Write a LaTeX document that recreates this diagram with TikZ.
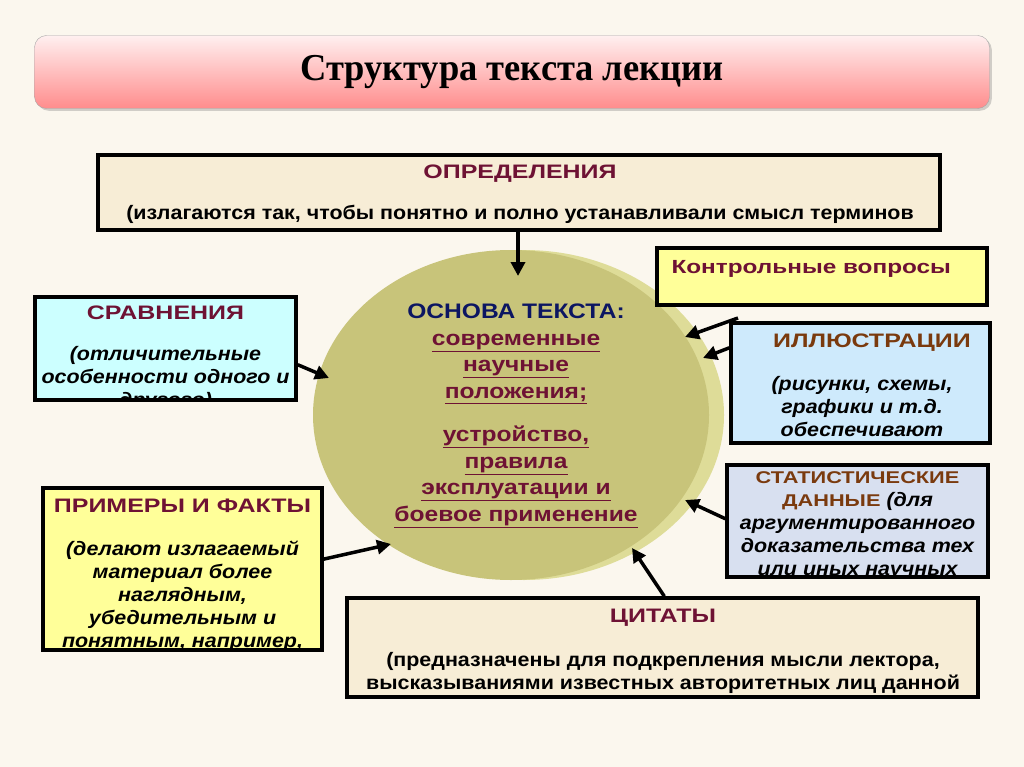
\documentclass[tikz,border=0pt]{standalone}
\usepackage{fontspec}
\setmainfont{Liberation Serif}
\setsansfont{Liberation Sans}
\newfontfamily\titlefont[FakeStretch=0.96]{Liberation Serif}
\newfontfamily\hdrfont[FakeStretch=1.28]{Liberation Sans}
\newfontfamily\txtfont[FakeStretch=1.1]{Liberation Sans}
\newfontfamily\midfont[FakeStretch=1.17]{Liberation Sans}
\usetikzlibrary{shapes.geometric,arrows.meta,shadows}

\newcommand\uln[1]{\underline{#1}}

\definecolor{bgbeige}{RGB}{251,247,238}
\definecolor{hdrred}{RGB}{110,18,52}
\definecolor{hdrbrown}{RGB}{122,58,14}
\definecolor{navy}{RGB}{12,22,98}
\definecolor{paper}{RGB}{247,237,214}
\definecolor{lemon}{RGB}{255,255,153}
\definecolor{aqua}{RGB}{204,255,255}
\definecolor{sky}{RGB}{206,234,252}
\definecolor{lilac}{RGB}{216,224,240}
\definecolor{olive}{RGB}{200,196,122}
\definecolor{oliveside}{RGB}{222,220,152}

\tikzset{
  frame/.style={draw=black, line width=3.5pt, inner sep=0pt},
  hdr/.style={font=\hdrfont\bfseries\fontsize{19.5}{23}\selectfont, text=hdrred, align=center},
  plain/.style={font=\txtfont\bfseries\fontsize{19.5}{23}\selectfont, align=center},
  body/.style={font=\txtfont\bfseries\itshape\fontsize{19.5}{23}\selectfont, align=center},
  arr/.style={line width=3.5pt, -{Triangle[length=14pt,width=14pt]}},
}

\begin{document}
\begin{tikzpicture}[x=1pt,y=-1pt]
        % background
        \fill[bgbeige] (0,0) rectangle (1024,767);
        \useasboundingbox (0,0) rectangle (1024,767);

        % title
        \node[rounded corners=12pt, draw=gray!70, top color=red!6, bottom color=red!45!white,
              drop shadow={opacity=0.35}, minimum width=955pt, minimum height=73pt]
              (title) at (512,72) {\titlefont\fontsize{38}{40}\selectfont\bfseries Структура текста лекции};

        % central ellipse
        \node[ellipse, fill=oliveside, minimum width=400pt, minimum height=330pt] (side) at (524,415) {};
        \node[ellipse, fill=olive, minimum width=396pt, minimum height=330pt] (base) at (511,415) {};
        \node[font=\midfont\bfseries\fontsize{21}{26.5}\selectfont, text=hdrred, align=center] (basetxt) at (516,416)
             {\textcolor{navy}{ОСНОВА ТЕКСТА:}\\ \uln{современные}\\ \uln{научные}\\ \uln{положения;}\\[17pt]
              \uln{устройство,}\\ \uln{правила}\\ \uln{эксплуатации и}\\ \uln{боевое применение}};

        % boxes
        \node[frame, fill=paper, minimum width=842pt, minimum height=75pt] (def) at (519,192.5) {};
        \node[frame, fill=lemon, minimum width=330pt, minimum height=57pt] (ctrl) at (822,276.5) {};
        \node[frame, fill=aqua, minimum width=261pt, minimum height=103pt] (cmp) at (165.5,348.5) {};
        \node[frame, fill=sky, minimum width=259pt, minimum height=120pt] (ill) at (860.5,383) {};
        \node[frame, fill=lemon, minimum width=279pt, minimum height=162pt] (ex) at (182.5,569) {};
        \node[frame, fill=lilac, minimum width=261pt, minimum height=112pt] (stat) at (857.5,521) {};
        \node[frame, fill=paper, minimum width=631pt, minimum height=99pt] (cit) at (662.5,647.5) {};

        % box texts
        \node[hdr] at (520,174) {ОПРЕДЕЛЕНИЯ};
        \node[plain] at (520,214) {(излагаются так, чтобы понятно и полно устанавливали смысл терминов};
        \node[hdr, font=\hdrfont\bfseries\fontsize{19}{23}\selectfont, anchor=west] at (668,269) {Контрольные вопросы};
        \node[hdr] at (165.5,313) {СРАВНЕНИЯ};
        \node[hdr, text=hdrbrown] at (872,343) {ИЛЛЮСТРАЦИИ};
        \node[hdr] at (182.5,506) {ПРИМЕРЫ И ФАКТЫ};
        \node[hdr] at (663,618) {ЦИТАТЫ};
        \node[plain] at (663,672.5)
             {(предназначены для подкрепления мысли лектора,\\ высказываниями известных авторитетных лиц данной};
        \begin{scope}
          \clip ([shift={(2pt,-2pt)}]cmp.north west) rectangle ([shift={(-2pt,2pt)}]cmp.south east);
          \node[body, anchor=north] at (165.5,343) {(отличительные\\ особенности одного и\\ другого)};
        \end{scope}
        \begin{scope}
          \clip ([shift={(2pt,-2pt)}]ill.north west) rectangle ([shift={(-2pt,2pt)}]ill.south east);
          \node[body, anchor=north] at (862,373) {(рисунки, схемы,\\ графики и т.д.\\ обеспечивают};
        \end{scope}
        \begin{scope}
          \clip ([shift={(2pt,-2pt)}]ex.north west) rectangle ([shift={(-2pt,2pt)}]ex.south east);
          \node[body, anchor=north] at (182.5,537) {(делают излагаемый\\ материал более\\ наглядным,\\ убедительным и\\ понятным, например,};
        \end{scope}
        \begin{scope}
          \clip ([shift={(2pt,-2pt)}]stat.north west) rectangle ([shift={(-2pt,2pt)}]stat.south east);
          \node[body, anchor=north] at (857.5,468)
               {{\hdrfont\upshape\fontsize{17}{23}\selectfont\color{hdrbrown}СТАТИСТИЧЕСКИЕ}\\
                {\hdrfont\upshape\fontsize{17}{23}\selectfont\color{hdrbrown}ДАННЫЕ} (для\\
                аргументированного\\ доказательства тех\\ или иных научных};
        \end{scope}

        % arrow tips on the ellipse
        \coordinate (tdef) at (518,276);
        \coordinate (sctrl) at (738,318);
        \coordinate (tctrl) at (685,337);
        \coordinate (till) at (703,358);
        \coordinate (tcmp) at (329,378);
        \coordinate (tex) at (391,544);
        \coordinate (tstat) at (685,500);
        \coordinate (tcit) at (632,548);

        % connectors
        \draw[arr] (def.south -| tdef) -- (tdef);
        \draw[arr] (sctrl) -- (tctrl);
        \draw[arr] (ill.165) -- (till);
        \draw[arr] (cmp.-7) -- (tcmp);
        \draw[arr] (ex.4) -- (tex);
        \draw[arr] (stat.179) -- (tstat);
        \draw[arr] (cit.88) -- (tcit);
    \end{tikzpicture}
\end{document}
